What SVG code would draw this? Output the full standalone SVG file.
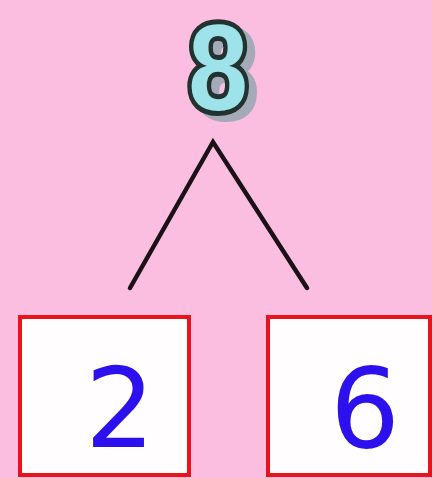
<svg xmlns="http://www.w3.org/2000/svg" width="432" height="478" viewBox="0 0 432 478">
<defs>
<filter id="shadow" x="-30%" y="-30%" width="160%" height="160%">
<feOffset in="SourceAlpha" dx="8" dy="6" result="off"/>
<feFlood flood-color="#5f9a9a" flood-opacity="0.55"/>
<feComposite in2="off" operator="in" result="sh"/>
<feMerge><feMergeNode in="sh"/><feMergeNode in="SourceGraphic"/></feMerge>
</filter>
</defs>
<style>
.box{fill:#fffdfd;stroke:#e8141c;stroke-width:4}
.num{font-family:"DejaVu Sans","Liberation Sans",sans-serif;font-size:110px;fill:#2c10ee;text-anchor:middle}
.line{stroke:#1a1216;stroke-width:4.5;stroke-linecap:round;fill:none}
</style>
<rect width="432" height="478" fill="#fbbee0"/>
<g id="top" filter="url(#shadow)">
<text x="0" y="110" transform="translate(218 0) scale(0.88 1)" font-family="Liberation Sans,Arial,sans-serif" font-weight="bold" font-size="122" text-anchor="middle" fill="#9ee2ea" stroke="#23302f" stroke-width="10" paint-order="stroke">8</text>
</g>
<g id="connectors">
<polyline class="line" points="130,288 213,142 307,288"/>
</g>
<g id="left">
<rect class="box" x="20" y="317" width="169" height="158"/>
<text class="num" x="120" y="447">2</text>
</g>
<g id="right">
<rect class="box" x="268" y="317" width="162" height="158"/>
<text class="num" x="365" y="447">6</text>
</g>
</svg>
